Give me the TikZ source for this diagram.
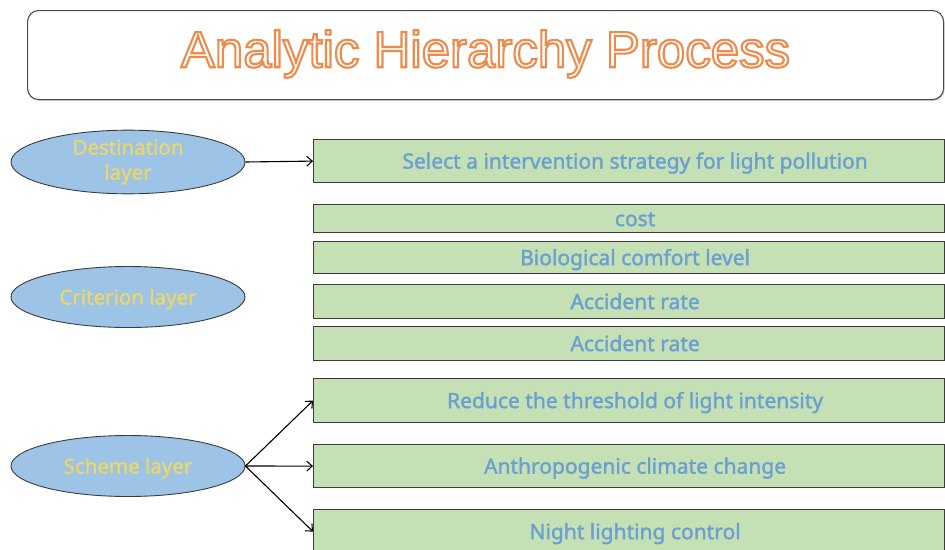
\documentclass[tikz,border=0pt]{standalone}
\usepackage{fontspec}
\setmainfont{Noto Sans}
\newfontfamily\labelfont{Noto Sans}[FakeBold=1.5]
\newfontfamily\titlefont{Liberation Sans}
\usetikzlibrary{shapes.geometric,arrows.meta,shadows}
\definecolor{boxgreen}{HTML}{C5E0B4}
\definecolor{ellblue}{HTML}{9DC3E6}
\definecolor{labelblue}{HTML}{6A9FD2}
\definecolor{labelyellow}{HTML}{E9D76C}
\definecolor{titleorange}{HTML}{EE8A4A}
\definecolor{edgegray}{HTML}{3C3C3C}
% outlined lettering: white fill, orange stroke (text rendering mode 2)
\newcommand{\outlined}[1]{{\color{white}%
  \special{pdf:literal direct 2 Tr 2.1 w 0.933 0.541 0.290 RG}#1%
  \special{pdf:literal direct 0 Tr}}}
\begin{document}
\begin{tikzpicture}[x=1pt,y=-1pt,
  layerell/.style={ellipse,draw=edgegray,line width=0.9pt,fill=ellblue,
    minimum width=234pt,minimum height=61pt,inner sep=0pt,
    text=labelyellow,font=\labelfont\fontsize{20.5}{25}\selectfont,align=center},
  itembox/.style={rectangle,draw=edgegray,line width=1.2pt,fill=boxgreen,
    minimum width=631pt,inner sep=0pt,anchor=north west,
    text height=17pt,text depth=2pt,
    execute at begin node={\hspace*{12pt}},
    text=labelblue,font=\labelfont\fontsize{21}{24}\selectfont},
  titletext/.style={font=\titlefont\fontsize{51}{56}\selectfont,inner sep=0pt},
  link/.style={draw=black,line width=1.1pt,-{Straight Barb[length=5.5pt,width=10pt]}}
]
\useasboundingbox (0,0) rectangle (945,549);

% title frame
\node[draw=black!70,line width=1.1pt,rounded corners=11pt,fill=white,
  minimum width=916pt,minimum height=89pt,anchor=north west,
  drop shadow={shadow xshift=1pt,shadow yshift=-1.5pt,opacity=0.35}] (frame) at (27,10) {};
\node[titletext] (title) at ([yshift=1pt]frame.center) {\outlined{Analytic Hierarchy Process}};

% layers
\node[layerell] (dest) at (128,162) {Destination\\layer};
\node[layerell,text height=17pt,text depth=2pt] (crit) at (128,297) {Criterion layer};
\node[layerell,text height=17pt,text depth=2pt] (sch)  at (128,466) {Scheme layer};

% goal
\node[itembox,minimum height=43pt] (goal) at (313,139) {Select a intervention strategy for light pollution};

% criteria
\node[itembox,minimum height=28pt] (c1) at (313,204) {cost};
\node[itembox,minimum height=32pt] (c2) at (313,241) {Biological comfort level};
\node[itembox,minimum height=34pt] (c3) at (313,284) {Accident rate};
\node[itembox,minimum height=34pt] (c4) at (313,326) {Accident rate};

% schemes
\node[itembox,minimum height=44pt] (s1) at (313,378) {Reduce the threshold of light intensity};
\node[itembox,minimum height=43pt] (s2) at (313,444) {Anthropogenic climate change};
\node[itembox,minimum height=44pt] (s3) at (313,509) {Night lighting control};

% connectors
\draw[link] (dest.east) -- (goal.west);
\draw[link] (sch.east) -- (s1.west);
\draw[link] (sch.east) -- (s2.west);
\draw[link] (sch.east) -- (s3.west);
\end{tikzpicture}
\end{document}
